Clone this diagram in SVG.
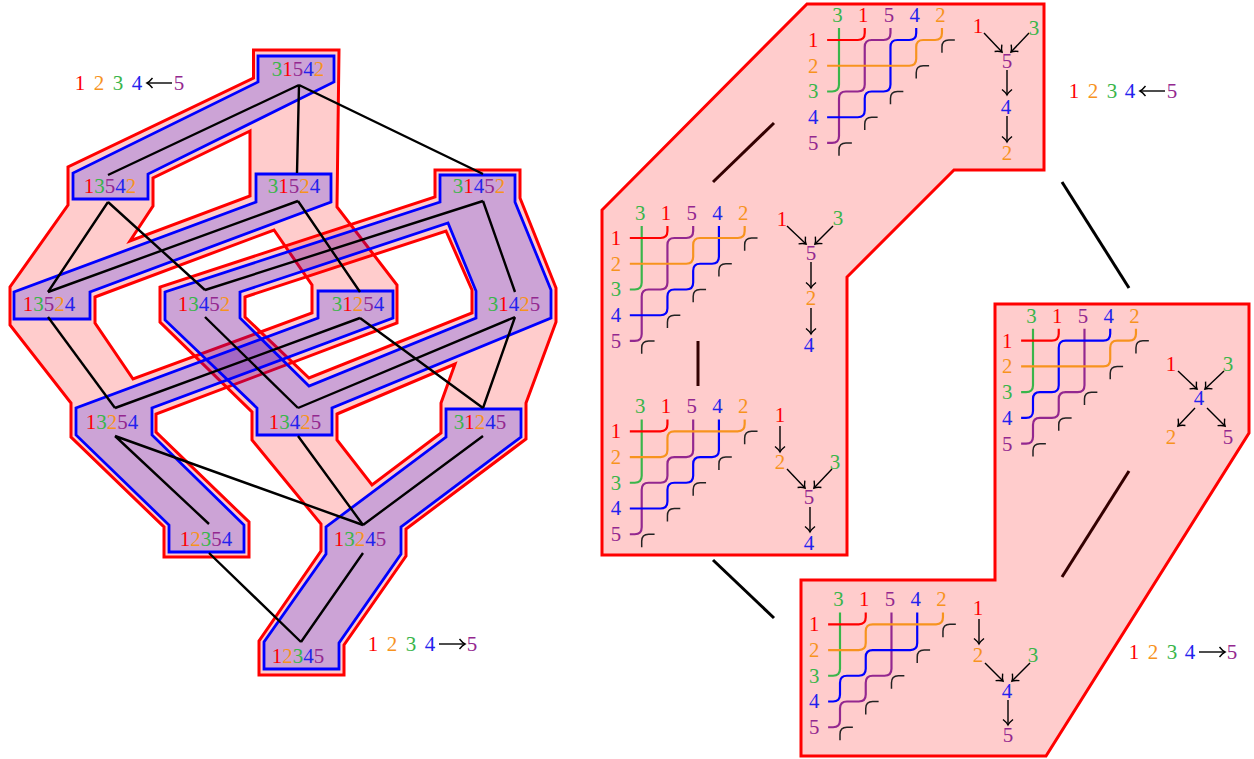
<svg xmlns="http://www.w3.org/2000/svg" xmlns:xlink="http://www.w3.org/1999/xlink" width="1254" height="759" viewBox="0 0 1254 759">
<style>
text{font-family:"Liberation Serif","Times New Roman",serif;font-size:21px;text-anchor:middle}
.c1{fill:#ff0000}.c2{fill:#f7931e}.c3{fill:#39b54a}.c4{fill:#2222ee}.c5{fill:#93278f}
.red{fill:#ff0000;fill-opacity:.2;stroke:#ff0000;stroke-width:3;fill-rule:evenodd;stroke-linejoin:miter}
.blue{fill:#0000ff;fill-opacity:.2;stroke:#0000ff;stroke-width:2.8;fill-rule:evenodd;stroke-linejoin:miter}
.e{stroke:#000;stroke-width:2.4;fill:none;stroke-linecap:butt}
.E{stroke:#000;stroke-width:3;fill:none}
.w{fill:none;stroke-width:2.2}
.wr{stroke:#ff0000}.wo{stroke:#f7931e}.wg{stroke:#39b54a}.wb{stroke:#0000ff}.wp{stroke:#93278f}
.m{fill:none;stroke:#222;stroke-width:1.5}
.a{stroke:#000;stroke-width:1.4;fill:none;marker-end:url(#to)}
</style>
<defs>
<marker id="to" markerUnits="userSpaceOnUse" markerWidth="16" markerHeight="16" viewBox="-12 -8 16 16" refX="0" refY="0" orient="auto"><path d="M-5.5 -5 Q-2.5 -1.2 0 0 Q-2.5 1.2 -5.5 5" fill="none" stroke="#000" stroke-width="1.4"/></marker>
<g id="marks">
<path class="m" d="M104 13V7Q104 0 111 0H117"/>
<path class="m" d="M78 39V33Q78 26 85 26H91"/>
<path class="m" d="M52 65V59Q52 52 59 52H65"/>
<path class="m" d="M26 91V85Q26 78 33 78H39"/>
<path class="m" d="M0 117V111Q0 104 7 104H13"/>
</g>
<path id="green" class="w wg" d="M-12 52H-7Q0 52 0 45V-12"/>
<path id="red1" class="w wr" d="M-12 0H19Q26 0 26 -7V-12"/>
<path id="p1" class="w wp" d="M-12 104H-7Q0 104 0 97V59Q0 52 7 52H19Q26 52 26 45V7Q26 0 33 0H45Q52 0 52 -7V-12"/>
<path id="p2" class="w wp" d="M-12 104H-7Q0 104 0 97V59Q0 52 7 52H19Q26 52 26 45V33Q26 26 33 26H45Q52 26 52 19V-12"/>
<path id="p3" class="w wp" d="M-12 104H-7Q0 104 0 97V85Q0 78 7 78H19Q26 78 26 71V59Q26 52 33 52H45Q52 52 52 45V-12"/>
<path id="b1" class="w wb" d="M-12 78H19Q26 78 26 71V59Q26 52 33 52H45Q52 52 52 45V7Q52 0 59 0H71Q78 0 78 -7V-12"/>
<path id="b2" class="w wb" d="M-12 78H19Q26 78 26 71V59Q26 52 33 52H45Q52 52 52 45V33Q52 26 59 26H71Q78 26 78 19V-12"/>
<path id="b3" class="w wb" d="M-12 78H-7Q0 78 0 71V59Q0 52 7 52H19Q26 52 26 45V7Q26 0 33 0H71Q78 0 78 -7V-12"/>
<path id="b4" class="w wb" d="M-12 78H-7Q0 78 0 71V59Q0 52 7 52H19Q26 52 26 45V33Q26 26 33 26H71Q78 26 78 19V-12"/>
<path id="o1" class="w wo" d="M-12 26H71Q78 26 78 19V7Q78 0 85 0H97Q104 0 104 -7V-12"/>
<path id="o2" class="w wo" d="M-12 26H45Q52 26 52 19V7Q52 0 59 0H97Q104 0 104 -7V-12"/>
<path id="o3" class="w wo" d="M-12 26H19Q26 26 26 19V7Q26 0 33 0H97Q104 0 104 -7V-12"/>
</defs>

<g id="regions">
<path class="red" d="M253.5 50H339L337 207L397 285V323L156 414V432L249 522V557H164V527L71 437V403L10 325V287L68 205V167L253.5 78Z M250 131L153 178V206L130 241L250 196Z M95 297L274 230L312 285V313L133 379L95 323Z"/>
<path class="red" d="M435 170H520V198L556 288V322L526 403V439L406 529V556L344 645V675H259V641L321 551V524L252 440V412L160 322V287L435 197Z M245 297L446 231L472 290V313L309 378L245 317Z M337 414L455 364L441 403V433L372 485L337 440Z"/>
<path class="blue" d="M258 56H334V82L148 174V199H73V173L258 82Z"/>
<path class="blue" d="M256 174H331V202L90 292V319H14V292L256 202Z"/>
<path class="blue" d="M318 291H393V318L152 408V435L244 525V552H169V525L76 435V408L318 318Z"/>
<path class="blue" d="M440 175H515V202L551 290V318L332 408V435H257V408L165 320V292L440 202Z M240 292L448 223L476 291V318L309 386L240 318Z"/>
<path class="blue" d="M446 409H521V437L401 527V554L339 643V669H264V642L326 554V527L446 437Z"/>
</g>

<g id="connectors">
<path class="e" d="M299 85L108 175M299 85L297 173M299 85L483 174"/>
<path class="e" d="M108 202L48 292M108 202L205 290"/>
<path class="e" d="M298 201L48 292M298 201L360 292"/>
<path class="e" d="M483 201L205 290M483 201L515 292"/>
<path class="e" d="M48 317L115 408"/>
<path class="e" d="M205 317L298 408"/>
<path class="e" d="M360 318L115 408M360 318L483 408"/>
<path class="e" d="M515 317L298 408M515 317L483 408"/>
<path class="e" d="M115 436L209 524M115 436L363 525"/>
<path class="e" d="M298 436L363 525M483 436L363 525"/>
<path class="e" d="M209 553L301 642M363 553L301 642"/>
<path class="E" d="M713 182L774 123"/>
<path class="E" d="M1062 182L1129 288"/>
<path class="E" d="M698 341V386"/>
<path class="E" d="M713 560L774 618"/>
<path class="E" d="M1062 577L1129 471"/>
</g>

<g id="n31542"><text x="298" y="76"><tspan class="c3">3</tspan><tspan class="c1">1</tspan><tspan class="c5">5</tspan><tspan class="c4">4</tspan><tspan class="c2">2</tspan></text></g>
<g id="n13542"><text x="110" y="193"><tspan class="c1">1</tspan><tspan class="c3">3</tspan><tspan class="c5">5</tspan><tspan class="c4">4</tspan><tspan class="c2">2</tspan></text></g>
<g id="n31524"><text x="294" y="193"><tspan class="c3">3</tspan><tspan class="c1">1</tspan><tspan class="c5">5</tspan><tspan class="c2">2</tspan><tspan class="c4">4</tspan></text></g>
<g id="n31452"><text x="479" y="193"><tspan class="c3">3</tspan><tspan class="c1">1</tspan><tspan class="c4">4</tspan><tspan class="c5">5</tspan><tspan class="c2">2</tspan></text></g>
<g id="n13524"><text x="49" y="311"><tspan class="c1">1</tspan><tspan class="c3">3</tspan><tspan class="c5">5</tspan><tspan class="c2">2</tspan><tspan class="c4">4</tspan></text></g>
<g id="n13452"><text x="204" y="311"><tspan class="c1">1</tspan><tspan class="c3">3</tspan><tspan class="c4">4</tspan><tspan class="c5">5</tspan><tspan class="c2">2</tspan></text></g>
<g id="n31254"><text x="358" y="311"><tspan class="c3">3</tspan><tspan class="c1">1</tspan><tspan class="c2">2</tspan><tspan class="c5">5</tspan><tspan class="c4">4</tspan></text></g>
<g id="n31425"><text x="514" y="311"><tspan class="c3">3</tspan><tspan class="c1">1</tspan><tspan class="c4">4</tspan><tspan class="c2">2</tspan><tspan class="c5">5</tspan></text></g>
<g id="n13254"><text x="112" y="429"><tspan class="c1">1</tspan><tspan class="c3">3</tspan><tspan class="c2">2</tspan><tspan class="c5">5</tspan><tspan class="c4">4</tspan></text></g>
<g id="n13425"><text x="295" y="429"><tspan class="c1">1</tspan><tspan class="c3">3</tspan><tspan class="c4">4</tspan><tspan class="c2">2</tspan><tspan class="c5">5</tspan></text></g>
<g id="n31245"><text x="480" y="429"><tspan class="c3">3</tspan><tspan class="c1">1</tspan><tspan class="c2">2</tspan><tspan class="c4">4</tspan><tspan class="c5">5</tspan></text></g>
<g id="n12354"><text x="206" y="546"><tspan class="c1">1</tspan><tspan class="c2">2</tspan><tspan class="c3">3</tspan><tspan class="c5">5</tspan><tspan class="c4">4</tspan></text></g>
<g id="n13245"><text x="360" y="546"><tspan class="c1">1</tspan><tspan class="c3">3</tspan><tspan class="c2">2</tspan><tspan class="c4">4</tspan><tspan class="c5">5</tspan></text></g>
<g id="n12345"><text x="298" y="663"><tspan class="c1">1</tspan><tspan class="c2">2</tspan><tspan class="c3">3</tspan><tspan class="c4">4</tspan><tspan class="c5">5</tspan></text></g>

<g id="legend-left-top">
<text class="c1" x="80" y="90">1</text><text class="c2" x="99" y="90">2</text><text class="c3" x="118" y="90">3</text><text class="c4" x="137" y="90">4</text><text class="c5" x="179" y="90">5</text>
<path class="a" d="M172 83H147"/>
</g>
<g id="legend-left-bottom">
<text class="c1" x="373" y="651">1</text><text class="c2" x="392" y="651">2</text><text class="c3" x="411" y="651">3</text><text class="c4" x="430" y="651">4</text><text class="c5" x="472" y="651">5</text>
<path class="a" d="M439 644H465"/>
</g>

<g id="panel-outline-upper"><path class="red" d="M807 4H1044V170H954L847 277V555H602V210Z"/></g>
<g id="panel-outline-lower"><path class="red" d="M995 304H1249V433L1046 756H801V580H995Z"/></g>

<g id="panel-a" transform="translate(839 40) scale(.99)">
<use href="#green"/><use href="#red1"/><use href="#p1"/><use href="#b1"/><use href="#o1"/><use href="#marks"/>
<text class="c3" x="-1.5" y="-18">3</text><text class="c1" x="24.5" y="-18">1</text><text class="c5" x="50.5" y="-18">5</text><text class="c4" x="76.5" y="-18">4</text><text class="c2" x="102.5" y="-18">2</text>
<text class="c1" x="-26" y="7">1</text><text class="c2" x="-26" y="33">2</text><text class="c3" x="-26" y="59">3</text><text class="c4" x="-26" y="85">4</text><text class="c5" x="-26" y="111">5</text>
</g>
<g id="poset-a">
<text class="c1" x="978" y="33">1</text><text class="c3" x="1034" y="35">3</text><text class="c5" x="1007" y="68">5</text><text class="c4" x="1006" y="114">4</text><text class="c2" x="1007" y="160">2</text>
<path class="a" d="M984 33L1002 52"/><path class="a" d="M1029 33L1011 52"/><path class="a" d="M1007 70V95"/><path class="a" d="M1007 116V142"/>
</g>

<g id="panel-b" transform="translate(641.7 238) scale(.99)">
<use href="#green"/><use href="#red1"/><use href="#p1"/><use href="#b2"/><use href="#o2"/><use href="#marks"/>
<text class="c3" x="-1.5" y="-18">3</text><text class="c1" x="24.5" y="-18">1</text><text class="c5" x="50.5" y="-18">5</text><text class="c4" x="76.5" y="-18">4</text><text class="c2" x="102.5" y="-18">2</text>
<text class="c1" x="-26" y="7">1</text><text class="c2" x="-26" y="33">2</text><text class="c3" x="-26" y="59">3</text><text class="c4" x="-26" y="85">4</text><text class="c5" x="-26" y="111">5</text>
</g>
<g id="poset-b">
<text class="c1" x="782" y="226">1</text><text class="c3" x="838" y="225">3</text><text class="c5" x="811" y="260">5</text><text class="c2" x="811" y="305">2</text><text class="c4" x="809" y="352">4</text>
<path class="a" d="M787 226L806 244"/><path class="a" d="M833 226L815 244"/><path class="a" d="M811 262V288"/><path class="a" d="M811 308V334"/>
</g>

<g id="panel-c" transform="translate(641.7 431.3) scale(.99)">
<use href="#green"/><use href="#red1"/><use href="#p2"/><use href="#b2"/><use href="#o3"/><use href="#marks"/>
<text class="c3" x="-1.5" y="-18">3</text><text class="c1" x="24.5" y="-18">1</text><text class="c5" x="50.5" y="-18">5</text><text class="c4" x="76.5" y="-18">4</text><text class="c2" x="102.5" y="-18">2</text>
<text class="c1" x="-26" y="7">1</text><text class="c2" x="-26" y="33">2</text><text class="c3" x="-26" y="59">3</text><text class="c4" x="-26" y="85">4</text><text class="c5" x="-26" y="111">5</text>
</g>
<g id="poset-c">
<text class="c1" x="780" y="422">1</text><text class="c2" x="780" y="469">2</text><text class="c3" x="835" y="469">3</text><text class="c5" x="809" y="504">5</text><text class="c4" x="809" y="550">4</text>
<path class="a" d="M780 426V452"/><path class="a" d="M787 469L805 488"/><path class="a" d="M832 469L814 488"/><path class="a" d="M810 507V532"/>
</g>

<g id="panel-d" transform="translate(1033 340.7) scale(.99)">
<use href="#green"/><use href="#red1"/><use href="#p3"/><use href="#b3"/><use href="#o1"/><use href="#marks"/>
<text class="c3" x="-1.5" y="-18">3</text><text class="c1" x="24.5" y="-18">1</text><text class="c5" x="50.5" y="-18">5</text><text class="c4" x="76.5" y="-18">4</text><text class="c2" x="102.5" y="-18">2</text>
<text class="c1" x="-26" y="7">1</text><text class="c2" x="-26" y="33">2</text><text class="c3" x="-26" y="59">3</text><text class="c4" x="-26" y="85">4</text><text class="c5" x="-26" y="111">5</text>
</g>
<g id="poset-d">
<text class="c1" x="1171" y="371">1</text><text class="c3" x="1228" y="371">3</text><text class="c4" x="1199" y="405">4</text><text class="c2" x="1171" y="444">2</text><text class="c5" x="1228" y="444">5</text>
<path class="a" d="M1178 371L1197 389"/><path class="a" d="M1224 371L1205 389"/><path class="a" d="M1195 408L1178 426"/><path class="a" d="M1207 408L1225 426"/>
</g>

<g id="panel-e" transform="translate(840 624.3) scale(.99)">
<use href="#green"/><use href="#red1"/><use href="#p3"/><use href="#b4"/><use href="#o3"/><use href="#marks"/>
<text class="c3" x="-1.5" y="-18">3</text><text class="c1" x="24.5" y="-18">1</text><text class="c5" x="50.5" y="-18">5</text><text class="c4" x="76.5" y="-18">4</text><text class="c2" x="102.5" y="-18">2</text>
<text class="c1" x="-26" y="7">1</text><text class="c2" x="-26" y="33">2</text><text class="c3" x="-26" y="59">3</text><text class="c4" x="-26" y="85">4</text><text class="c5" x="-26" y="111">5</text>
</g>
<g id="poset-e">
<text class="c1" x="978" y="615">1</text><text class="c2" x="978" y="662">2</text><text class="c3" x="1033" y="662">3</text><text class="c4" x="1007" y="698">4</text><text class="c5" x="1008" y="742">5</text>
<path class="a" d="M979 619V644"/><path class="a" d="M985 663L1003 681"/><path class="a" d="M1030 663L1012 681"/><path class="a" d="M1008 700V725"/>
</g>

<g id="legend-right-top">
<text class="c1" x="1074" y="98">1</text><text class="c2" x="1093" y="98">2</text><text class="c3" x="1112" y="98">3</text><text class="c4" x="1130" y="98">4</text><text class="c5" x="1172" y="98">5</text>
<path class="a" d="M1165 91H1140"/>
</g>
<g id="legend-right-bottom">
<text class="c1" x="1134" y="659">1</text><text class="c2" x="1153" y="659">2</text><text class="c3" x="1172" y="659">3</text><text class="c4" x="1190" y="659">4</text><text class="c5" x="1232" y="659">5</text>
<path class="a" d="M1199 652H1225"/>
</g>
</svg>
